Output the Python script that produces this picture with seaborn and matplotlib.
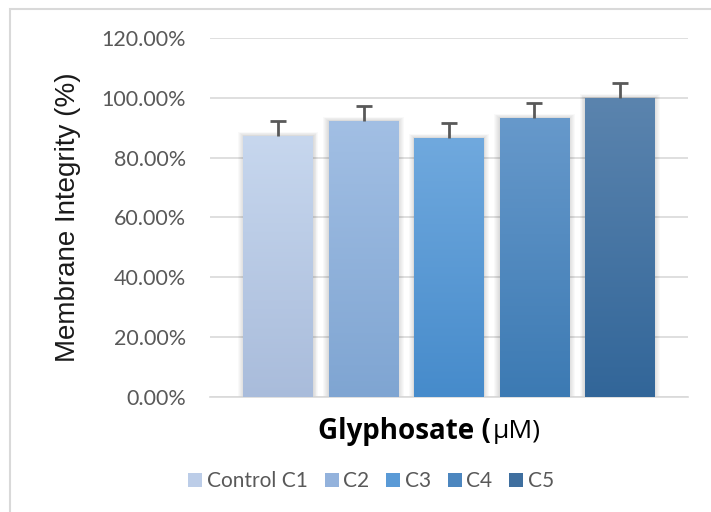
import numpy as np
import matplotlib
matplotlib.use("Agg")
import matplotlib.pyplot as plt
import matplotlib.colors as mcolors
from matplotlib.patches import Patch, Rectangle
from matplotlib.ticker import FuncFormatter
import seaborn as sns

categories = ["Control C1", "C2", "C3", "C4", "C5"]
integrity = [0.873, 0.923, 0.866, 0.933, 1.000]
err_up = [0.050, 0.050, 0.050, 0.050, 0.050]

# gradient colours (top, bottom) for each bar
top_colors = ["#c7d7ee", "#a2bfe4", "#70a9de", "#6799cb", "#5b84ae"]
bottom_colors = ["#a9bcdb", "#7fa5d2", "#468bcb", "#3c7ab3", "#326699"]
legend_colors = ["#bccde8", "#93b2dc", "#5a9ad6", "#4c86bf", "#3f6f9f"]

sns.set_style("white")
plt.rcParams["font.family"] = ["Lato", "DejaVu Sans"]

fig = plt.figure(figsize=(7.11, 5.12), dpi=100)
ax = fig.add_axes([0.295, 0.2246, 0.673, 0.7012])

sns.barplot(x=categories, y=integrity, hue=categories, palette=legend_colors,
            legend=False, width=0.81, ax=ax, zorder=3)

bars = list(ax.patches)

# gradient fill + soft shadow
for i, p in enumerate(bars):
    x0, w, h = p.get_x(), p.get_width(), p.get_height()
    grad = np.linspace(0, 1, 256).reshape(-1, 1)
    cmap = mcolors.LinearSegmentedColormap.from_list(
        "g", [bottom_colors[i], top_colors[i]])
    im = ax.imshow(grad, cmap=cmap, origin="lower", aspect="auto",
                   extent=[x0, x0 + w, 0, h], zorder=3)
    im.set_clip_path(p)
    p.set_edgecolor("none")
    for k in range(6):
        d = 0.011 * (k + 1)
        ax.add_patch(Rectangle((x0 - d, 0), w + 2 * d, h + d * 0.2,
                               facecolor="black", edgecolor="none",
                               alpha=0.022, zorder=2))

ax.set_xlim(-0.8, 4.8)
ax.set_ylim(0, 1.2)

xs = [p.get_x() + p.get_width() / 2 for p in bars]
eb = ax.errorbar(xs, integrity, yerr=[[0] * 5, err_up], fmt="none",
                 ecolor="#595959", elinewidth=2, capsize=6, capthick=2, zorder=4)
eb[1][0].set_visible(False)  # hide the lower caps

ax.set_yticks(np.arange(0, 1.21, 0.2))
ax.yaxis.set_major_formatter(FuncFormatter(lambda v, _: f"{v * 100:.2f}%"))
ax.tick_params(axis="y", labelsize=15.5, colors="#595959", length=0, pad=17)
ax.set_xticks([])
ax.grid(axis="y", color="#d9d9d9", linewidth=1.2, zorder=0)
ax.set_axisbelow(True)
for s in ["top", "right", "left"]:
    ax.spines[s].set_visible(False)
ax.spines["bottom"].set_color("#d9d9d9")
ax.spines["bottom"].set_linewidth(1.2)

ax.set_ylabel("Membrane Integrity (%)", fontsize=20, color="#1a1a1a",
              family=["Liberation Sans", "DejaVu Sans"])
ax.yaxis.set_label_coords(-0.27, 0.5, transform=ax.transAxes)
ax.set_xlabel("")

# x axis title: bold part + regular part
split_x = 491 / 711
fig.text(split_x, 1 - 431 / 512, "Glyphosate (", fontsize=20, fontweight="bold",
         family=["Open Sans", "DejaVu Sans"], ha="right", va="center", color="black")
fig.text(split_x + 0.003, 1 - 431 / 512, "\u03bcM)", fontsize=19,
         family=["Open Sans", "DejaVu Sans"], ha="left", va="center", color="black")

handles = [Patch(facecolor=c, edgecolor="none") for c in legend_colors]
fig.legend(handles, categories, loc="center", bbox_to_anchor=(0.522, 1 - 481 / 512),
           ncol=5, frameon=False, fontsize=15, labelcolor="#595959",
           handlelength=0.68, handleheight=0.68, handletextpad=0.22,
           columnspacing=0.8)

# chart border
fig.patches.append(Rectangle((10 / 711, -0.1), 1.2, 1.1 - 9 / 512,
                             transform=fig.transFigure, fill=False,
                             edgecolor="#d9d9d9", linewidth=1.5))

fig.savefig("out.png", dpi=100)
